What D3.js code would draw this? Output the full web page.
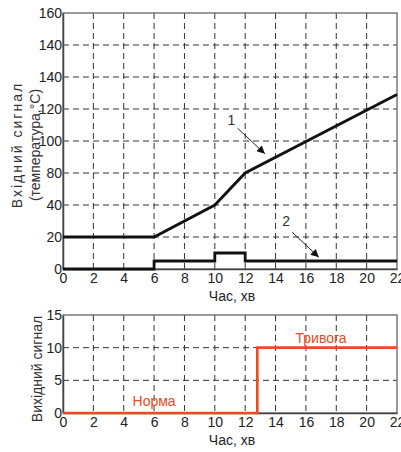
<!DOCTYPE html>
<html>
<head>
<meta charset="utf-8">
<script src="https://cdn.jsdelivr.net/npm/d3@7"></script>
<style>
    body { margin: 0; background: #fff; }
    text { font-family: 'Liberation Sans', Arial, sans-serif; }
</style>
</head>
<body>
<svg width="401" height="452"></svg>
<script>
// time axis, minutes
const timeTicks = [0, 2, 4, 6, 8, 10, 12, 14, 16, 18, 20, 22];

// top chart: input signal (labels as printed, one repeated)
const inputTickLabels = [0, 20, 40, 80, 100, 120, 140, 140, 160];
const line1Time = [0, 6, 10, 12, 22];
const line1Value = [20, 20, 40, 80, 129];
const line2Time = [0, 6, 6, 10, 10, 12, 12, 22];
const line2Value = [0, 0, 5, 5, 10, 10, 5, 5];

// bottom chart: output signal
const outputTicks = [0, 5, 10, 15];
const outputTime = [0, 12.8, 12.8, 22];
const outputValue = [0, 0, 10, 10];
const outputLabels = ['Норма', 'Тривога'];
const outputLabelTime = [6, 17];
const outputLabelValue = [1, 10.7];

const svg = d3.select('svg');
const left = 63, right = 397;
const grey = '#333';
const red = '#eb4a22';

const x = d3.scaleLinear().domain([0, 22]).range([left, right]);

svg.append('defs').append('marker')
    .attr('id', 'head')
    .attr('viewBox', '0 0 10 10')
    .attr('refX', 10).attr('refY', 5)
    .attr('markerWidth', 10).attr('markerHeight', 8)
    .attr('markerUnits', 'userSpaceOnUse')
    .attr('orient', 'auto')
    .append('path')
    .attr('d', 'M0,0L10,5L0,10z')
    .attr('fill', '#111');

function drawFrame(g, yGrid, yTicks, top, bottom, tickFormat) {
    // dashed grid
    g.append('g').selectAll('line')
        .data(timeTicks.slice(1, -1))
        .enter().append('line')
        .attr('x1', d => x(d)).attr('x2', d => x(d))
        .attr('y1', top).attr('y2', bottom)
        .attr('stroke', grey).attr('stroke-dasharray', '6,4');
    g.append('g').selectAll('line')
        .data(yTicks.slice(1, -1))
        .enter().append('line')
        .attr('x1', left).attr('x2', right)
        .attr('y1', d => yGrid(d)).attr('y2', d => yGrid(d))
        .attr('stroke', grey).attr('stroke-dasharray', '6,4');

    g.append('rect')
        .attr('x', left).attr('y', top)
        .attr('width', right - left).attr('height', bottom - top)
        .attr('fill', 'none').attr('stroke', '#666').attr('stroke-width', 1.3);

    const yAxis = g.append('g')
        .attr('transform', `translate(${left},0)`)
        .call(d3.axisLeft(yGrid).tickValues(yTicks).tickSize(0).tickPadding(1).tickFormat(tickFormat));
    const xAxis = g.append('g')
        .attr('transform', `translate(0,${bottom})`)
        .call(d3.axisBottom(x).tickValues(timeTicks).tickSize(0).tickPadding(4));
    [xAxis, yAxis].forEach(a => {
        a.select('.domain').attr('stroke', '#444').attr('stroke-width', 1.5);
        a.selectAll('text').attr('font-size', 14).attr('fill', '#222')
            .attr('font-family', "'Liberation Sans', Arial, sans-serif");
    });

    g.append('text')
        .attr('x', 232).attr('y', bottom + 32)
        .attr('text-anchor', 'middle')
        .attr('font-size', 14).attr('fill', '#222')
        .text('Час, хв');
}

// ---------- top chart ----------
const top1 = 13, bottom1 = 269;
const gridY = d3.scaleLinear().domain([0, inputTickLabels.length - 1]).range([bottom1, top1]);
// piecewise value scale that follows the printed labels
const uniqueIdx = inputTickLabels.map((v, i) => i).filter(i => inputTickLabels.indexOf(inputTickLabels[i]) === i);
const y1 = d3.scaleLinear()
    .domain(uniqueIdx.map(i => inputTickLabels[i]))
    .range(uniqueIdx.map(i => gridY(i)));

const g1 = svg.append('g');
drawFrame(g1, gridY, d3.range(inputTickLabels.length), top1, bottom1, i => inputTickLabels[i]);

const line1 = d3.line().x(d => x(d[0])).y(d => y1(d[1]));
g1.append('path')
    .attr('d', line1(d3.zip(line1Time, line1Value)))
    .attr('fill', 'none').attr('stroke', '#111').attr('stroke-width', 2.8);
g1.append('path')
    .attr('d', line1(d3.zip(line2Time, line2Value)))
    .attr('fill', 'none').attr('stroke', '#111').attr('stroke-width', 2.8);

// curve labels with arrows
const arrows = [
    {label: '1', lx: 11.1, ly: 110, x1: 11.5, y1: 108, x2: 13.3, y2: 92},
    {label: '2', lx: 14.7, ly: 27, x1: 15.1, y1: 23, x2: 16.85, y2: 7.3}
];
arrows.forEach(a => {
    g1.append('line')
        .attr('x1', x(a.x1)).attr('y1', y1(a.y1))
        .attr('x2', x(a.x2)).attr('y2', y1(a.y2))
        .attr('stroke', '#222').attr('stroke-width', 1)
        .attr('marker-end', 'url(#head)');
    g1.append('text')
        .attr('x', x(a.lx)).attr('y', y1(a.ly))
        .attr('text-anchor', 'middle')
        .attr('font-size', 14).attr('fill', '#333')
        .text(a.label);
});

const t1 = g1.append('text')
    .attr('transform', 'translate(0,145) rotate(-90)')
    .attr('text-anchor', 'middle')
    .attr('font-size', 14).attr('fill', '#333');
t1.append('tspan').attr('x', 0).attr('y', 22).attr('letter-spacing', 2).text('Вхідний  сигнал');
t1.append('tspan').attr('x', 0).attr('y', 40).text('(температура,°C)');

// ---------- bottom chart ----------
const top2 = 315, bottom2 = 413;
const y2 = d3.scaleLinear().domain([0, 15]).range([bottom2, top2]);

const g2 = svg.append('g');
drawFrame(g2, y2, outputTicks, top2, bottom2, d => d);

g2.append('path')
    .attr('d', d3.line().x(d => x(d[0])).y(d => y2(d[1]))(d3.zip(outputTime, outputValue)))
    .attr('fill', 'none').attr('stroke', red).attr('stroke-width', 2.6);

g2.selectAll('.state')
    .data(outputLabels)
    .enter().append('text')
    .attr('class', 'state')
    .attr('x', (d, i) => x(outputLabelTime[i]))
    .attr('y', (d, i) => y2(outputLabelValue[i]))
    .attr('text-anchor', 'middle')
    .attr('font-size', 14).attr('fill', red)
    .text(d => d);

g2.append('text')
    .attr('transform', 'translate(42,369) rotate(-90)')
    .attr('text-anchor', 'middle')
    .attr('font-size', 14).attr('fill', '#333')
    .text('Вихідний сигнал');
</script>
</body>
</html>
